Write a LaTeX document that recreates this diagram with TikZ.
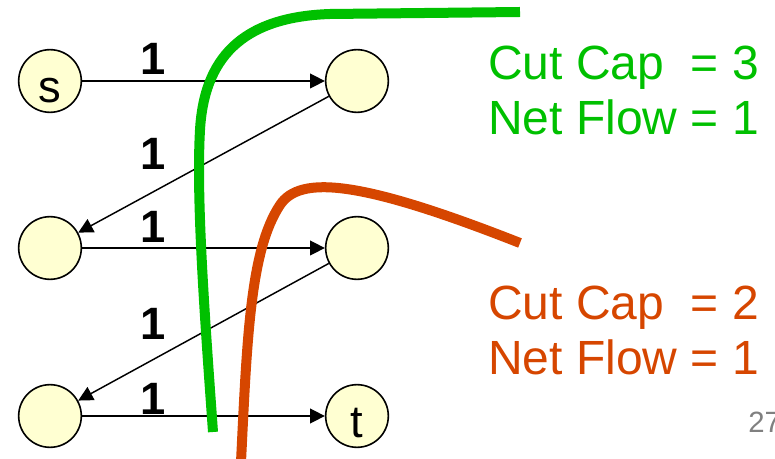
\documentclass[tikz,border=0pt]{standalone}
\usepackage{fontspec}
\setmainfont{Liberation Sans}
\usetikzlibrary{arrows.meta}
\definecolor{cutgreen}{RGB}{0,192,0}
\definecolor{cutorange}{RGB}{214,70,0}
\definecolor{vertexfill}{RGB}{255,255,210}
\definecolor{pagegray}{RGB}{128,128,128}
\tikzset{
  flow vertex/.style={
    circle,
    draw=black,
    line width=1.2pt,
    fill=vertexfill,
    minimum size=47pt,
    inner sep=0pt,
    text height=32pt,
    text depth=0pt,
    font=\fontsize{34}{34}\selectfont,
  },
  flow edge/.style={
    -{Triangle[length=11pt,width=11pt]},
    line width=1.1pt,
  },
  cap label/.style={
    anchor=base,
    inner sep=0pt,
    font=\fontsize{34}{34}\selectfont\bfseries,
  },
  cut line/.style={
    line width=7.5pt,
    line cap=butt,
  },
  cut text/.style={
    anchor=base west,
    inner sep=0pt,
    font=\fontsize{36}{36}\selectfont,
  },
}

\begin{document}
\begin{tikzpicture}[x=0.75pt,y=-0.75pt]
  \useasboundingbox (0,0) rectangle (775,459);
  % vertices
  \node[flow vertex] (s) at (50,81) {s};
  \node[flow vertex] (u1) at (357,81) {};
  \node[flow vertex] (u2) at (50,248) {};
  \node[flow vertex] (u3) at (357,248) {};
  \node[flow vertex] (u4) at (50,416) {};
  \node[flow vertex] (t) at (357,416) {t};
  % edges
  \draw[flow edge] (s) -- (u1);
  \draw[flow edge] (u1) -- (u2);
  \draw[flow edge] (u2) -- (u3);
  \draw[flow edge] (u3) -- (u4);
  \draw[flow edge] (u4) -- (t);
  % capacities
  \node[cap label] (c1) at (153,75) {1};
  \node[cap label] (c2) at (153,170) {1};
  \node[cap label] (c3) at (153,243) {1};
  \node[cap label] (c4) at (153,340) {1};
  \node[cap label] (c5) at (153,415) {1};
  % cuts
  \draw[cut line, cutgreen] (213,432) .. controls (205,320) and (196,200) .. (200,130)
    .. controls (204,60) and (240,17) .. (330,14) -- (520,12);
  \draw[cut line, cutorange] (241,462) .. controls (247,340) and (250,250) .. (280,205)
    .. controls (300,175) and (360,180) .. (520,243);
  % cut values
  \node[cut text, cutgreen] (capg) at (488,80) {Cut Cap\ \ = 3};
  \node[cut text, cutgreen] (flowg) at (488,135) {Net Flow = 1};
  \node[cut text, cutorange] (capo) at (488,320) {Cut Cap\ \ = 2};
  \node[cut text, cutorange] (flowo) at (488,375) {Net Flow = 1};
  \node[anchor=base west, inner sep=0pt, text=pagegray, font=\fontsize{22}{22}\selectfont] (page) at (748,433) {27};
\end{tikzpicture}
\end{document}
